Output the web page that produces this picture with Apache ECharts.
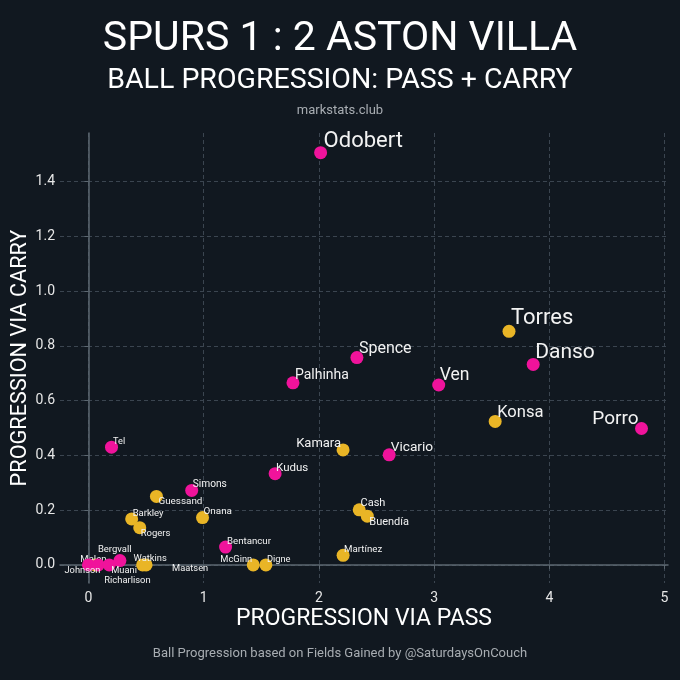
<!DOCTYPE html>
<html>
<head>
<meta charset="utf-8">
<script src="https://cdn.jsdelivr.net/npm/echarts@6/dist/echarts.min.js"></script>
<style>
html,body{margin:0;padding:0;background:#111820;}
#chart{width:680px;height:680px;}
</style>
</head>
<body>
<div id="chart"></div>
<script>
// ---- data ----
const villaNames = ['Torres','Konsa','Kamara','Cash','Buendía','Martínez','McGinn','Digne','Onana','Guessand','Barkley','Rogers','Watkins','Maatsen','Malen'];
const villaPass  = [3.65, 3.53, 2.21, 2.35, 2.42, 2.21, 1.43, 1.54, 0.99, 0.59, 0.375, 0.445, 0.47, 0.50, 0.06];
const villaCarry = [0.853, 0.524, 0.42, 0.201, 0.178, 0.035, 0.0, 0.0, 0.173, 0.25, 0.168, 0.136, 0.0, 0.0, 0.0];

const spursNames = ['Odobert','Danso','Ven','Porro','Spence','Palhinha','Vicario','Tel','Kudus','Simons','Bentancur','Johnson','Richarlison','Muani','Bergvall'];
const spursPass  = [2.015, 3.86, 3.04, 4.80, 2.33, 1.775, 2.61, 0.20, 1.62, 0.896, 1.19, 0.0, 0.085, 0.18, 0.273];
const spursCarry = [1.505, 0.732, 0.657, 0.498, 0.757, 0.665, 0.402, 0.43, 0.333, 0.272, 0.065, 0.0, 0.0, 0.0, 0.016];

const xTicks = [0, 1, 2, 3, 4, 5];
const yTicks = [0, 0.2, 0.4, 0.6, 0.8, 1.0, 1.2, 1.4];

// ---- label styling (offset dx, dy, align, font size) ----
const labelStyle = {
  'Odobert':[3,-14,'left',22], 'Torres':[2,-15,'left',22], 'Danso':[2,-14,'left',21],
  'Ven':[1,-11,'left',17.5], 'Konsa':[2,-11,'left',16.6], 'Porro':[-3,-12,'right',19],
  'Spence':[2,-11,'left',16], 'Palhinha':[2,-9,'left',14], 'Kamara':[-2,-8,'right',13],
  'Vicario':[1.5,-9,'left',13.7], 'Tel':[1.5,-7,'left',9.2], 'Kudus':[1,-7,'left',11.5],
  'Simons':[1,-7,'left',10.2], 'Guessand':[2,4,'left',9.9], 'Onana':[1,-7,'left',9.9],
  'Barkley':[1,-6,'left',9.5], 'Rogers':[1,5,'left',9.5], 'Cash':[1.3,-7.5,'left',11],
  'Buendía':[2,5,'left',11], 'Bentancur':[1.4,-6.6,'left',9.7], 'Martínez':[1,-6.6,'left',9.7],
  'McGinn':[-1,-6.7,'right',9.3], 'Digne':[1,-6.7,'left',9.3], 'Watkins':[-9,-7,'left',9.3],
  'Maatsen':[26,3,'left',9.3], 'Malen':[-15,-6,'left',9.5], 'Johnson':[-24,5,'left',9.3],
  'Richarlison':[6,15,'left',9.4], 'Muani':[2,5,'left',9.3], 'Bergvall':[-22,-12,'left',9.5]
};

function build(names, xs, ys) {
  return names.map((n, i) => {
    const s = labelStyle[n];
    return {
      name: n,
      value: [xs[i], ys[i]],
      label: {
        show: true, formatter: n, position: 'inside',
        align: s[2], verticalAlign: 'middle', offset: [s[0], s[1] + 0.12 * s[3]],
        fontSize: s[3], color: '#f2f2f2', fontFamily: 'Roboto'
      }
    };
  });
}

const chart = echarts.init(document.getElementById('chart'), null, {renderer: 'canvas'});
const axisLineStyle = {color: '#5c6770', width: 1.5};
const gridLine = {show: true, lineStyle: {color: '#3b4550', type: [4, 3], width: 1}};

chart.setOption({
  backgroundColor: '#111820',
  animation: false,
  title: [
    {text: 'SPURS 1 : 2 ASTON VILLA', left: 'center', top: 14,
     textStyle: {color: '#ffffff', fontSize: 41, fontWeight: 'normal', fontFamily: 'Roboto'}},
    {text: 'BALL PROGRESSION: PASS + CARRY', left: 'center', top: 61,
     textStyle: {color: '#ffffff', fontSize: 28.5, fontWeight: 'normal', fontFamily: 'Roboto'}},
    {text: 'markstats.club', left: 'center', top: 99,
     textStyle: {color: '#a8adb2', fontSize: 13, fontWeight: 'normal', fontFamily: 'Roboto'}},
    {text: 'Ball Progression based on Fields Gained by @SaturdaysOnCouch', left: 'center', top: 642,
     textStyle: {color: '#a8adb2', fontSize: 13, fontWeight: 'normal', fontFamily: 'Roboto'}}
  ],
  grid: {left: 60, right: 12, top: 133, bottom: 97, outerBoundsMode: 'none', containLabel: false},
  xAxis: {
    type: 'value', min: -0.247, max: 5.03,
    name: 'PROGRESSION VIA PASS', nameLocation: 'middle', nameGap: 25, nameMoveOverlap: false,
    nameTextStyle: {color: '#ffffff', fontSize: 23, fontFamily: 'Roboto', verticalAlign: 'top'},
    axisLine: {show: true, lineStyle: axisLineStyle},
    axisTick: {show: true, customValues: xTicks, length: 4, lineStyle: {color: '#5c6770'}},
    axisLabel: {customValues: xTicks, color: '#e6e6e6', fontSize: 14, margin: 8, fontFamily: 'Roboto',
      formatter: v => String(v)},
    splitLine: gridLine
  },
  yAxis: {
    type: 'value', min: -0.066, max: 1.577,
    name: 'PROGRESSION VIA CARRY', nameLocation: 'middle', nameGap: 28, nameRotate: 90, nameMoveOverlap: false,
    nameTextStyle: {color: '#ffffff', fontSize: 21.7, fontFamily: 'Roboto'},
    axisLine: {show: true, lineStyle: axisLineStyle},
    axisTick: {show: true, customValues: yTicks, length: 4, lineStyle: {color: '#5c6770'}},
    axisLabel: {customValues: yTicks, color: '#e6e6e6', fontSize: 14, margin: 5, fontFamily: 'Roboto',
      formatter: v => v.toFixed(1)},
    splitLine: gridLine
  },
  series: [
    {type: 'scatter', name: 'Aston Villa', symbolSize: 13, z: 2,
     itemStyle: {color: '#e9b526', opacity: 1},
     data: build(villaNames, villaPass, villaCarry)},
    {type: 'scatter', name: 'Spurs', symbolSize: 13, z: 3,
     itemStyle: {color: '#f0139b', opacity: 1},
     data: build(spursNames, spursPass, spursCarry)}
  ]
});
</script>
</body>
</html>
